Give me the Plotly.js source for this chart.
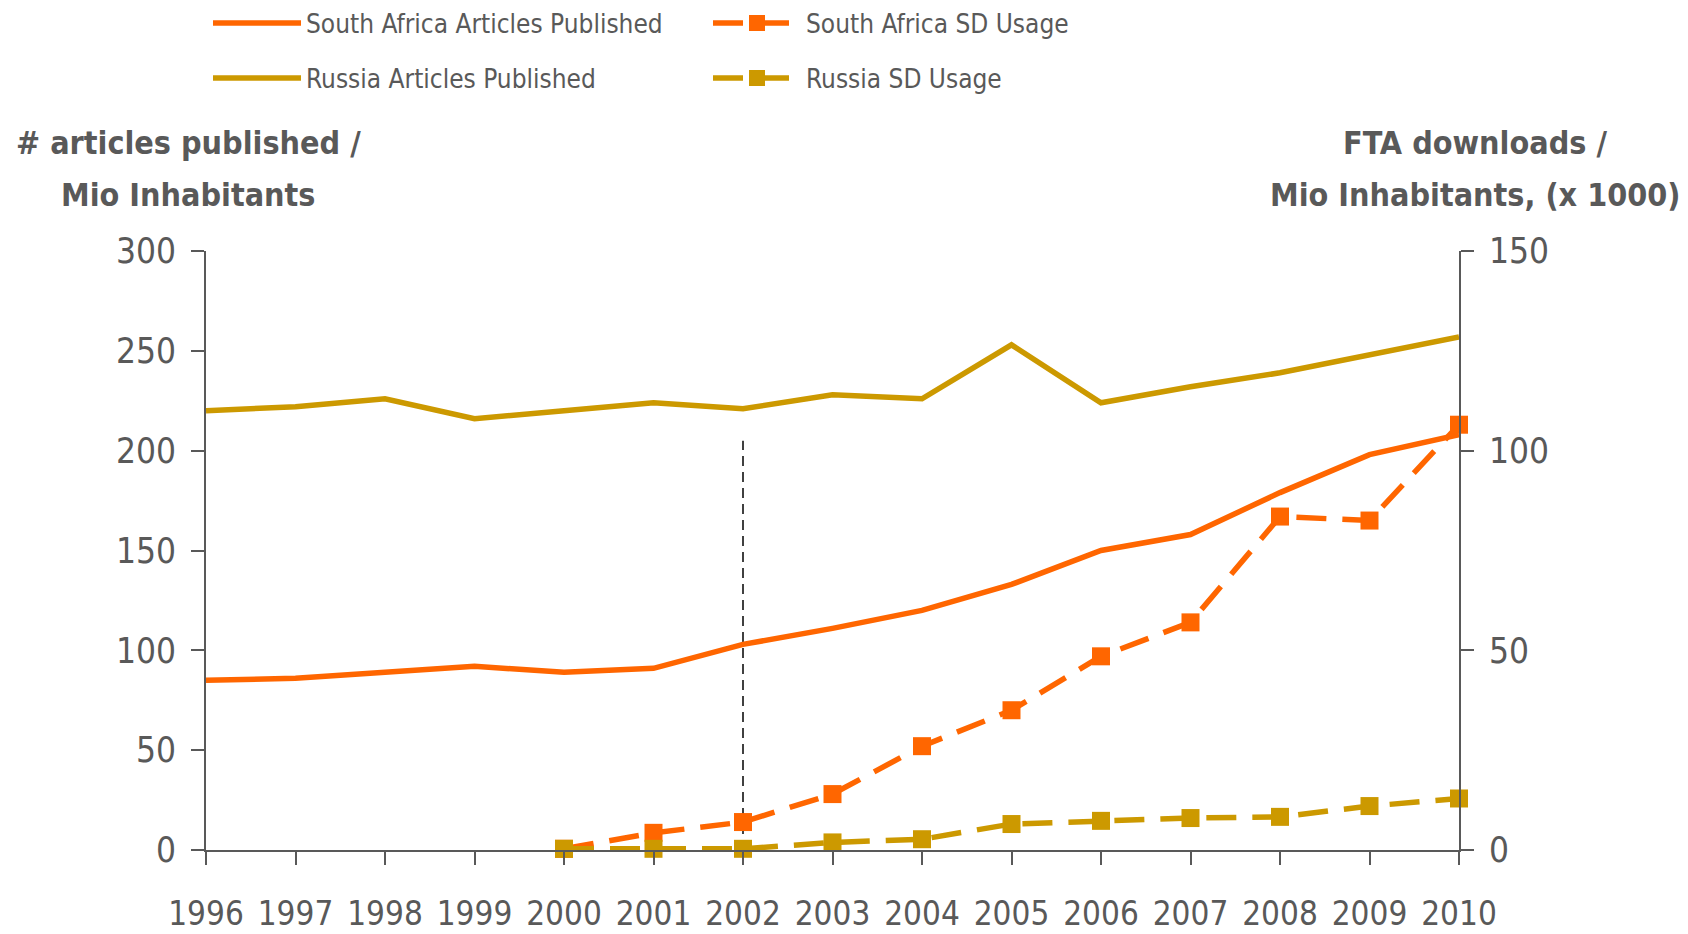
<!DOCTYPE html>
<html>
<head>
<meta charset="utf-8">
<script src="https://cdn.plot.ly/plotly-3.0.1.min.js"></script>
<style>
  html, body { margin: 0; padding: 0; background: #ffffff; }
  #chart { width: 1688px; height: 934px; }
  svg text { font-stretch: condensed; }
</style>
</head>
<body>
<div id="chart"></div>
<script>
// ---- Data ----
const years = [1996, 1997, 1998, 1999, 2000, 2001, 2002, 2003, 2004, 2005, 2006, 2007, 2008, 2009, 2010];
const saArticles = [85, 86, 89, 92, 89, 91, 103, 111, 120, 133, 150, 158, 179, 198, 208];
const ruArticles = [220, 222, 226, 216, 220, 224, 221, 228, 226, 253, 224, 232, 239, 248, 257];
const sdYears = [2000, 2001, 2002, 2003, 2004, 2005, 2006, 2007, 2008, 2009, 2010];
const saSD = [0.3, 4.3, 7.0, 14.0, 26.0, 35.0, 48.5, 57.0, 83.5, 82.5, 106.5];
const ruSD = [0.3, 0.3, 0.3, 1.9, 2.7, 6.5, 7.3, 8.0, 8.3, 11.0, 12.9];
const leftTicks = [0, 50, 100, 150, 200, 250, 300];
const rightTicks = [0, 50, 100, 150];
const leftTitle = ['# articles published /', 'Mio Inhabitants'];
const rightTitle = ['FTA downloads /', 'Mio Inhabitants, (x 1000)'];
const markerYear = 2002;      // vertical dashed marker
const markerTop = 205;        // height of the dashed marker (left-axis units)

const ORANGE = '#FF6600';
const GOLD = '#CC9900';
const GREY = '#595959';
const FONT = '"DejaVu Sans Condensed", "DejaVu Sans", sans-serif';

const traces = [
  { x: years, y: saArticles, name: 'South Africa Articles Published', type: 'scatter', mode: 'lines',
    line: { color: ORANGE, width: 5.5 }, legend: 'legend', cliponaxis: false },
  { x: years, y: ruArticles, name: 'Russia Articles Published', type: 'scatter', mode: 'lines',
    line: { color: GOLD, width: 5.5 }, legend: 'legend2', cliponaxis: false },
  { x: sdYears, y: saSD, name: 'South Africa SD Usage', type: 'scatter', mode: 'lines+markers', yaxis: 'y2',
    line: { color: ORANGE, width: 5.5, dash: '30px,16px' }, marker: { symbol: 'square', size: 18, color: ORANGE },
    legend: 'legend', cliponaxis: false },
  { x: sdYears, y: ruSD, name: 'Russia SD Usage', type: 'scatter', mode: 'lines+markers', yaxis: 'y2',
    line: { color: GOLD, width: 5.5, dash: '30px,16px' }, marker: { symbol: 'square', size: 18, color: GOLD },
    legend: 'legend2', cliponaxis: false }
];

const legendCommon = {
  orientation: 'h', xref: 'container', yref: 'container', xanchor: 'left', yanchor: 'middle',
  font: { family: FONT, size: 26, color: GREY }, itemwidth: 88, entrywidth: 397, entrywidthmode: 'pixels',
  bgcolor: 'rgba(0,0,0,0)', traceorder: 'normal', itemclick: false
};

const titleFont = { family: FONT, size: 32, color: GREY, weight: 'bold' };
function titleLine(text, x, y) {
  return { text: text, xref: 'paper', yref: 'paper', x: x, y: y, xanchor: 'center', yanchor: 'middle',
           showarrow: false, font: titleFont };
}

const layout = {
  width: 1688, height: 934,
  paper_bgcolor: '#ffffff', plot_bgcolor: '#ffffff',
  margin: { l: 206, r: 229, t: 251, b: 84 },
  font: { family: FONT, color: GREY },
  showlegend: true,
  legend: Object.assign({}, legendCommon, { x: 208 / 1688, y: 1 - 23 / 934 }),
  legend2: Object.assign({}, legendCommon, { x: 208 / 1688, y: 1 - 78 / 934 }),
  xaxis: {
    range: [1996, 2010], tickmode: 'array', tickvals: years, ticktext: years.map(String),
    showgrid: false, zeroline: false, showline: true, linecolor: GREY, linewidth: 2,
    ticks: 'outside', ticklen: 13, tickwidth: 2, tickcolor: GREY,
    tickfont: { family: FONT, size: 33, color: GREY }, ticklabelstandoff: 20
  },
  yaxis: {
    range: [0, 300], tickmode: 'array', tickvals: leftTicks,
    showgrid: false, zeroline: false, showline: true, linecolor: GREY, linewidth: 2,
    ticks: 'outside', ticklen: 13, tickwidth: 2, tickcolor: GREY,
    tickfont: { family: FONT, size: 35, color: GREY }, ticklabelstandoff: 8
  },
  yaxis2: {
    range: [0, 150], tickmode: 'array', tickvals: rightTicks, overlaying: 'y', side: 'right',
    showgrid: false, zeroline: false, showline: true, linecolor: GREY, linewidth: 2,
    ticks: 'outside', ticklen: 13, tickwidth: 2, tickcolor: GREY,
    tickfont: { family: FONT, size: 35, color: GREY }, ticklabelstandoff: 8
  },
  shapes: [{
    type: 'line', xref: 'x', yref: 'y', x0: markerYear, x1: markerYear, y0: 0, y1: markerTop,
    line: { color: '#404040', width: 2, dash: '10px,6px' }, layer: 'below'
  }],
  annotations: [
    titleLine(leftTitle[0], -0.014, 1.1798),
    titleLine(leftTitle[1], -0.014, 1.0931),
    titleLine(rightTitle[0], 1.0125, 1.1798),
    titleLine(rightTitle[1], 1.0125, 1.0931)
  ]
};

Plotly.newPlot('chart', traces, layout, { staticPlot: true, displayModeBar: false });
</script>
</body>
</html>
